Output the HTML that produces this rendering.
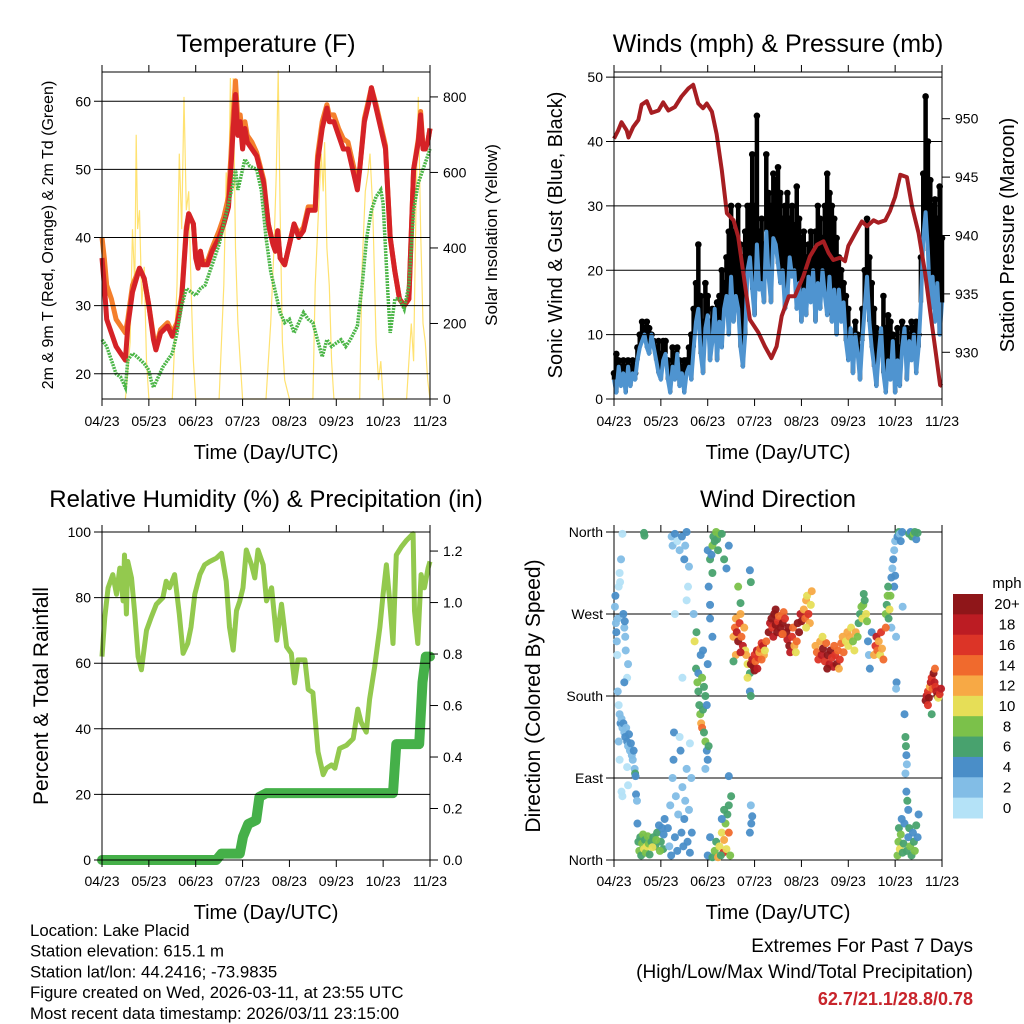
<!DOCTYPE html>
<html><head><meta charset="utf-8"><style>
html,body{margin:0;padding:0;background:#fff;}
svg{display:block;font-family:"Liberation Sans",sans-serif;}
</style></head><body>
<svg id="chart" width="1024" height="1024" viewBox="0 0 1024 1024"></svg>
<script>
// ---------- data ----------
const monthTicks = ["04/23","05/23","06/23","07/23","08/23","09/23","10/23","11/23"];
const tempT  = [0,0.05,0.1,0.2,0.3,0.4,0.5,0.55,0.65,0.8,0.9,1.0,1.1,1.15,1.25,1.4,1.5,1.6,1.7,1.8,1.85,1.95,2.0,2.05,2.1,2.15,2.25,2.35,2.5,2.6,2.7,2.75,2.8,2.85,2.9,2.95,3.0,3.05,3.1,3.2,3.3,3.45,3.55,3.65,3.7,3.75,3.8,3.9,4.0,4.1,4.2,4.3,4.4,4.55,4.6,4.7,4.8,4.85,4.95,5.05,5.15,5.25,5.35,5.45,5.5,5.6,5.7,5.75,5.85,5.95,6.05,6.15,6.25,6.35,6.45,6.55,6.65,6.75,6.8,6.85,6.9,6.95,7.0];
const temp2m = [37,33,28,26,24,23,22,27,32,35.5,34,30,25,23.5,26,27,25.5,27,31,41,43.5,42,37,35.5,38,36,36,38,40,42,44.5,50,56,61,55,57,53,56,54,53,52,48,42,39,38,41,37,36,39,42,40,41,44,44,51,56,59,57,57,55,53,53,50,47,50,57,60,62,59,56,53,40,35,31,30,31,50,54,58,53,53,54,56];
const temp9m = [40,37,33,31,28,27,26,28,33,35.5,34,30,25.5,24,26.5,27.5,26,27.5,31.5,41.5,43.5,42,37.5,36,38,36.5,36.5,38.5,41,43,46,52,58,63,57,58,54.5,57,55,54,52.5,48.5,42,39,38,41,37,36,39,42,40.5,41.5,44.5,44.5,52,57,59.5,58,58,56,54.5,54,51,48,50,57.5,60.5,62,59.5,56.5,53.5,40,35,31,30,31,50,54.5,58.5,53.5,53,54,56];
const dewT   = [0,0.1,0.2,0.3,0.4,0.5,0.55,0.65,0.75,0.9,1.0,1.05,1.1,1.2,1.3,1.4,1.5,1.6,1.7,1.8,1.9,2.0,2.1,2.2,2.3,2.4,2.5,2.6,2.7,2.8,2.85,2.9,3.0,3.05,3.15,3.3,3.4,3.5,3.6,3.7,3.8,3.9,4.0,4.1,4.2,4.3,4.4,4.5,4.6,4.7,4.8,4.9,5.0,5.1,5.2,5.3,5.45,5.55,5.65,5.75,5.85,5.95,6.0,6.1,6.15,6.25,6.35,6.45,6.55,6.65,6.75,6.85,6.95,7.0];
const dewV   = [25,24,22,20,19.5,18,22,23,22.5,21.5,20.5,19,18,19.5,21,22,23,26,30,32.5,32,31.5,32.5,33,35,37,39,42,45,48,50,47,50,51.5,50.5,50,47,40,35,32,29,27.5,28,26,27.5,29,28,27.5,25,22.5,25,24,24.5,25,24,25,27,33,40,44,46,47,45,32,26,31,31,29.5,33,44,48,50,52,53];
const solarT = [0.5,0.6,0.65,0.7,0.73,0.76,0.8,0.85,0.9,0.95,1.0,1.5,1.6,1.65,1.7,1.75,1.8,1.85,1.9,1.95,2.0,2.5,2.6,2.65,2.7,2.74,2.78,2.8,2.85,2.9,2.95,3.0,3.5,3.6,3.67,3.72,3.76,3.8,3.85,3.9,4.0,4.5,4.55,4.62,4.68,4.72,4.75,4.8,4.85,4.9,4.95,5.5,5.55,5.62,5.68,5.72,5.78,5.85,5.9,5.95,6.0,6.5,6.55,6.6,6.65,6.7,6.75,6.8,6.85,6.9,6.95,7.0];
const solarV = [0,150,450,300,700,450,500,250,350,100,0,0,300,650,450,800,500,550,300,100,0,0,300,600,500,850,600,850,400,200,100,0,0,200,400,600,870,500,150,50,0,0,300,500,650,550,680,400,300,100,0,0,350,550,600,650,500,150,50,100,0,0,100,200,100,500,800,450,200,150,50,0];

const windT = [];
for (let i = 0; i <= 140; i++) windT.push(i * 0.05);
const windV = [3,1,5,2,4,1,5,2,4,3,6,8,9,10,8,7,10,8,6,4,3,6,7,3,1,5,3,7,2,4,1,4,5,3,8,12,14,7,4,11,13,6,9,14,6,12,8,14,16,10,19,12,16,14,8,5,10,20,22,17,13,24,17,18,15,26,19,15,25,24,21,18,20,14,16,22,19,20,14,18,12,17,13,19,15,20,12,18,14,20,16,13,19,12,17,10,17,12,15,9,6,11,4,10,7,3,9,14,19,12,8,5,2,7,11,4,1,6,3,9,1,6,2,8,11,3,9,6,10,4,8,15,25,29,23,14,19,12,18,10,15];
const gustV = [4,7,6,5,6,5,6,5,6,4,8,10,12,11,12,11,10,9,8,9,7,9,9,6,5,8,7,8,6,5,6,6,8,10,14,18,24,16,12,18,16,12,14,13,15,16,20,18,22,26,30,26,25,30,24,22,26,30,30,38,30,44,26,28,24,38,32,30,35,34,36,32,28,30,32,28,30,27,33,28,25,26,22,24,26,23,26,30,28,25,30,35,32,30,28,25,22,20,18,16,14,10,8,12,10,8,14,20,28,22,18,14,11,9,10,16,11,13,12,10,9,11,8,12,10,11,10,12,11,12,10,22,35,47,40,34,30,31,28,33,25];
const presT = [0,0.09,0.16,0.27,0.31,0.41,0.52,0.59,0.7,0.8,0.95,1.05,1.16,1.3,1.44,1.59,1.69,1.8,1.9,1.98,2.09,2.19,2.3,2.41,2.55,2.65,2.76,2.9,3.08,3.22,3.36,3.47,3.58,3.73,3.86,4.04,4.18,4.33,4.47,4.58,4.68,4.83,4.93,5.0,5.15,5.29,5.4,5.54,5.64,5.79,5.89,6.0,6.11,6.25,6.36,6.5,6.64,6.75,6.86,6.96,7.0];
const presV = [948.3,949.0,949.7,949.0,948.4,949.3,949.9,951.2,951.5,950.5,950.7,951.4,950.7,951.0,951.9,952.6,952.9,951.3,950.9,951.3,950.6,948.7,945.6,941.9,941.3,939.9,936.8,932.8,931.7,930.5,929.5,930.5,933.1,934.8,934.8,936.5,938.2,939.2,939.5,938.5,937.9,938.1,937.8,939.1,940.2,941.2,940.8,941.3,941.1,941.3,942.1,943.3,945.2,945.0,942.5,940.2,936.8,933.4,930.2,927.2,927.1];

const rhT = [0,0.06,0.13,0.23,0.31,0.38,0.45,0.48,0.52,0.55,0.63,0.7,0.77,0.84,0.95,1.05,1.16,1.3,1.37,1.44,1.55,1.65,1.73,1.83,1.9,1.98,2.09,2.19,2.3,2.44,2.55,2.65,2.72,2.8,2.87,2.94,3.01,3.08,3.19,3.26,3.33,3.44,3.51,3.62,3.73,3.83,3.94,4.04,4.11,4.18,4.33,4.4,4.5,4.61,4.72,4.79,4.9,4.97,5.07,5.22,5.36,5.46,5.53,5.64,5.71,5.82,5.93,6.0,6.07,6.14,6.21,6.28,6.39,6.5,6.64,6.67,6.74,6.81,6.88,6.96,7.0];
const rhV = [62,74,83,87,81,89,79,93,75,91,86,75,62,58,70,74,78,80,85,83,87,75,63,66,71,81,87,90,91,92,93.5,85,71,64,76,79,83,94.5,90,86,94.5,90,79,83,67,78,65,63,54,61,61,52,51,33,26,28,29,28,34,35,37,46,42,39,49,59,71,81,90,79,66,93,95.5,97.5,99.5,76,66,87,83,89,91];
const rainT = [0,2.44,2.55,2.94,3.01,3.12,3.29,3.36,3.51,6.21,6.28,6.77,6.84,6.91,7.0];
const rainV = [0,0,0.025,0.025,0.09,0.14,0.155,0.245,0.26,0.26,0.45,0.45,0.69,0.79,0.79];

const dirPts = [
[0.02,278,3],[0.03,290,4],[0.04,260,2],[0.05,250,4],[0.06,240,3],[0.07,225,1],[0.08,265,3],[0.1,300,1],[0.12,315,0],[0.13,305,1],[0.15,330,3],[0.18,358,0],[0.2,270,4],[0.22,255,3],[0.24,245,2],[0.23,262,4],[0.25,230,2],[0.28,200,1],[0.3,215,2],[0.08,185,2],[0.1,170,1],[0.12,160,3],[0.14,150,4],[0.16,155,3],[0.18,145,2],[0.2,150,4],[0.22,140,3],[0.24,135,4],[0.26,145,2],[0.28,130,4],[0.3,125,3],[0.32,138,4],[0.34,120,2],[0.36,128,4],[0.38,115,3],[0.4,110,2],[0.42,120,4],[0.44,100,2],[0.45,95,6],[0.46,92,5],[0.47,72,4],[0.49,65,3],[0.5,40,4],[0.16,75,1],[0.18,70,0],[0.3,82,1],[0.28,102,1],[0.22,195,4],[0.1,130,2],[0.12,110,0],
[0.52,20,6],[0.54,10,8],[0.56,25,7],[0.58,5,6],[0.6,18,9],[0.62,28,8],[0.64,12,10],[0.66,22,7],[0.68,8,8],[0.7,15,10],[0.72,26,9],[0.74,18,8],[0.76,6,7],[0.8,20,6],[0.84,25,7],[0.88,15,6],[0.92,30,6],[0.96,38,5],[1.0,20,6],[1.03,35,5],[1.06,28,4],[1.08,45,5],[1.05,12,7],[0.98,10,8],[0.9,22,9],[0.82,14,10],[0.64,359,7],[0.65,356,6],
[1.15,35,4],[1.18,15,3],[1.2,60,2],[1.22,5,4],[1.25,90,3],[1.27,110,5],[1.28,140,4],[1.3,25,4],[1.32,70,2],[1.35,10,4],[1.37,50,3],[1.4,135,1],[1.42,120,4],[1.44,30,5],[1.46,80,2],[1.48,15,4],[1.5,45,4],[1.52,65,3],[1.55,100,2],[1.57,20,4],[1.6,55,3],[1.62,8,4],[1.65,90,3],[1.66,30,4],[1.23,355,2],[1.25,345,3],[1.3,358,4],[1.35,350,1],[1.4,340,3],[1.45,355,4],[1.5,330,4],[1.52,345,2],[1.55,360,4],[1.6,322,2],[1.46,200,0],[1.62,128,1],[1.55,285,1],[1.3,270,0],[1.58,300,1],
[1.72,240,10],[1.75,210,6],[1.78,195,8],[1.8,185,6],[1.82,170,7],[1.84,160,8],[1.86,150,12],[1.88,145,14],[1.9,165,6],[1.92,140,7],[1.95,130,8],[1.98,120,5],[2.0,110,4],[2.02,125,6],[1.76,250,6],[1.8,205,4],[1.85,225,4],[1.88,200,8],[1.92,190,6],[1.95,180,7],[1.98,170,5],[2.0,215,4],[1.9,230,4],[1.7,270,2],[2.02,300,4],[2.05,265,4],[2.0,340,4],[2.05,330,6],[2.08,335,4],[2.1,345,8],[2.12,355,7],[2.15,350,6],[2.18,360,8],[2.2,352,7],[2.25,358,8],[2.22,340,6],[2.3,358,6],[2.35,330,6],[2.4,320,4],[2.45,345,4],[2.1,315,6],[2.05,280,4],[2.1,245,4],[1.95,100,2],
[2.0,5,4],[2.05,25,4],[2.1,3,7],[2.15,10,8],[2.18,20,6],[2.22,3,12],[2.25,15,10],[2.3,30,10],[2.33,8,16],[2.35,22,12],[2.38,40,8],[2.42,50,6],[2.45,60,7],[2.4,12,10],[2.45,30,14],[2.48,5,8],[2.28,5,6],[2.3,45,4],[2.35,55,7],[2.5,70,6],[2.45,92,4],
[2.55,245,12],[2.58,255,14],[2.6,265,12],[2.62,250,18],[2.65,240,20],[2.68,260,16],[2.7,270,12],[2.72,245,14],[2.75,235,18],[2.78,255,12],[2.8,230,10],[2.82,225,12],[2.85,215,10],[2.6,225,12],[2.55,218,6],[2.7,228,18],[2.9,205,6],[2.9,185,4],[2.92,180,6],[2.85,200,10],[2.65,300,8],[2.9,318,4],[2.92,305,6],[2.9,30,4],[2.93,40,4],[2.92,60,3],[2.95,48,4],[2.7,282,6],
[2.92,215,20],[2.95,220,18],[2.98,212,20],[3.0,225,16],[3.02,218,14],[3.05,230,18],[3.08,222,16],[3.1,228,12],[3.12,232,14],[3.15,238,16],[3.18,235,18],[3.2,225,12],[3.22,230,10],[3.25,240,14],[3.0,208,20],[3.06,210,18],[3.15,220,14],
[3.3,250,20],[3.33,260,18],[3.36,265,20],[3.38,255,16],[3.4,245,18],[3.42,270,20],[3.45,258,20],[3.48,250,20],[3.5,262,16],[3.52,268,14],[3.55,255,20],[3.58,248,18],[3.6,260,20],[3.62,272,14],[3.65,265,16],[3.68,250,20],[3.7,242,18],[3.72,255,20],[3.74,235,20],[3.76,228,18],[3.8,245,16],[3.82,255,14],[3.85,235,12],[3.88,228,10],[3.9,240,14],[3.92,260,20],[3.95,250,20],[3.98,270,18],[4.0,262,20],[3.45,275,20],[3.6,248,14],
[4.05,275,12],[4.08,265,14],[4.1,285,12],[4.12,290,10],[4.15,270,16],[4.18,260,12],[4.2,280,10],[4.22,295,12],[4.1,255,10],
[4.3,235,12],[4.33,228,14],[4.36,220,16],[4.4,240,12],[4.43,225,18],[4.46,232,20],[4.5,218,16],[4.53,238,14],[4.56,225,20],[4.6,215,18],[4.62,230,20],[4.65,222,16],[4.68,212,18],[4.7,235,14],[4.72,225,16],[4.75,215,20],[4.78,230,14],[4.8,210,12],[4.82,220,16],[4.85,238,14],[4.88,245,12],[4.9,228,14],[4.45,245,10],[4.55,210,20],
[4.95,240,10],[4.98,250,12],[5.0,235,10],[5.03,245,12],[5.06,255,10],[5.1,240,8],[5.13,230,10],[5.16,250,12],[5.2,245,8],[5.22,260,6],[5.25,270,6],[5.28,278,8],[5.3,265,10],[5.32,280,8],[5.35,285,6],[5.38,270,10],[5.4,262,8],[5.33,292,6],
[5.42,240,4],[5.44,225,2],[5.46,210,4],[5.5,250,4],[5.55,225,12],[5.58,235,16],[5.6,245,18],[5.62,230,14],[5.65,240,12],[5.68,225,10],[5.7,250,16],[5.72,232,12],[5.75,220,14],
[5.8,270,8],[5.82,280,6],[5.84,290,8],[5.86,265,6],[5.88,275,10],[5.9,290,8],[5.92,310,4],[5.94,320,3],[5.96,330,4],[5.98,340,3],[6.0,350,2],[6.0,312,4],[5.98,300,4],[5.92,255,2],[6.02,245,3],[5.85,300,6],[5.8,255,14],[6.03,195,4],[6.02,188,3],
[6.05,355,4],[6.08,360,6],[6.1,358,2],[6.12,350,4],[6.15,360,4],[6.3,358,6],[6.33,360,4],[6.36,355,6],[6.4,358,8],[6.42,360,6],[6.45,352,4],[6.48,359,6],[6.16,278,2],
[6.2,160,4],[6.22,135,6],[6.23,125,6],[6.24,115,4],[6.25,105,2],[6.22,95,2],[6.24,75,4],[6.26,65,6],[6.28,55,4],
[6.05,5,8],[6.07,20,8],[6.08,35,6],[6.1,12,10],[6.12,28,8],[6.14,45,4],[6.16,8,6],[6.18,18,7],[6.2,40,4],[6.25,10,6],[6.28,25,4],[6.3,35,6],[6.32,15,8],[6.35,5,6],[6.38,30,4],[6.4,20,6],[6.42,10,8],[6.45,38,6],[6.48,25,4],[6.5,50,4],
[6.65,175,20],[6.67,180,18],[6.7,185,16],[6.72,178,20],[6.74,190,12],[6.76,195,18],[6.78,200,16],[6.8,188,14],[6.82,205,20],[6.84,195,18],[6.86,190,16],[6.88,185,18],[6.9,180,20],[6.92,178,10],[6.95,182,16],[6.98,188,18],[6.7,170,16],[6.85,210,14],[6.78,160,6]
];
const speedLabels = ["0","2","4","6","8","10","12","14","16","18","20+"];
const speedColors = ["#b4e2f7","#82bde6","#4a8ec8","#48a26e","#7bc14a","#e6de57","#f7a945","#f06a2d","#dc3427","#bc1c23","#8f1619"];
const tempTicks=[20,30,40,50,60], solarTicks=[0,200,400,600,800];
const windTicks=[0,10,20,30,40,50], presTicks=[930,935,940,945,950];
const rhTicks=[0,20,40,60,80,100], rainTicks=[0,0.2,0.4,0.6,0.8,1.0,1.2];
const dirTicks=[0,90,180,270,360], dirLabels=["North","East","South","West","North"];

// ---------- helpers ----------
const NS="http://www.w3.org/2000/svg";
const svg=document.getElementById('chart');
function el(tag, attrs, name, parent){
  const e=document.createElementNS(NS,tag);
  for(const k in attrs) e.setAttribute(k,attrs[k]);
  
  
  (parent||svg).appendChild(e);
  return e;
}
function txt(s,x,y,size,anchor,name,extra){
  const a=Object.assign({x:x,y:y,'font-size':size,'text-anchor':anchor||'middle',fill:'#000'},extra||{});
  const t=el('text',a,name);
  t.textContent=s;
  return t;
}
function scale(d0,d1,r0,r1){return v=>r0+(v-d0)/(d1-d0)*(r1-r0);}
function path(xs,ys,sx,sy){return xs.map((x,i)=>(i?'L':'M')+sx(x).toFixed(1)+','+sy(ys[i]).toFixed(1)).join('');}

function frame(P,leftTicks,ly,leftLabels,rightTicks,ry,rightFmt,prefix,xLabY){
  leftTicks.forEach((v,i)=>{
    el('line',{x1:P.x0-8,x2:P.x1,y1:ly(v),y2:ly(v),stroke:'#000','stroke-width':1},prefix+'-gridline');
    txt(leftLabels[i],P.x0-11,ly(v)+5,14,'end',prefix+'-left-tick-label');
  });
  if(rightTicks){
    rightTicks.forEach(v=>{
      el('line',{x1:P.x1,x2:P.x1+8,y1:ry(v),y2:ry(v),stroke:'#000','stroke-width':1},prefix+'-right-tick');
      txt(rightFmt(v),P.x1+13,ry(v)+5,14,'start',prefix+'-right-tick-label');
    });
  }
  el('rect',{x:P.x0,y:P.yT,width:P.x1-P.x0,height:P.yB-P.yT,fill:'none',stroke:'#000','stroke-width':1},prefix+'-plot-border');
  const sx=scale(0,7,P.x0,P.x1);
  monthTicks.forEach((m,i)=>{
    el('line',{x1:sx(i),x2:sx(i),y1:P.yT-7,y2:P.yT,stroke:'#000'},prefix+'-top-tick');
    el('line',{x1:sx(i),x2:sx(i),y1:P.yB,y2:P.yB+7,stroke:'#000'},prefix+'-bottom-tick');
    txt(m,sx(i),xLabY,14,'middle',prefix+'-x-tick-label');
  });
  txt('Time (Day/UTC)',(P.x0+P.x1)/2,xLabY+33,20,'middle',prefix+'-x-axis-title');
  return sx;
}

// ---------- Panel 1: Temperature ----------
{
  const P={x0:102,x1:430,yT:72,yB:399};
  const sy=scale(16.3,64.3,P.yB,P.yT), ss=scale(0,866,P.yB,P.yT);
  txt('Temperature (F)',266,52,25,'middle','temperature-title');
  const g=el('g',{},'temperature-series');
  const sx=scale(0,7,P.x0,P.x1);
  el('path',{d:path(solarT,solarV,sx,ss),fill:'none',stroke:'#ffe271','stroke-width':1.2},'solar-insolation-line',g);
  el('path',{d:path(tempT,temp9m,sx,sy),fill:'none',stroke:'#f47f2c','stroke-width':5,'stroke-linejoin':'round'},'temp-9m-line',g);
  el('path',{d:path(tempT,temp2m,sx,sy),fill:'none',stroke:'#d52227','stroke-width':5,'stroke-linejoin':'round'},'temp-2m-line',g);
  el('path',{d:path(dewT,dewV,sx,sy),fill:'none',stroke:'#4cb648','stroke-width':3.5,'stroke-dasharray':'2 1'},'dewpoint-line',g);
  frame(P,tempTicks,sy,tempTicks.map(String),solarTicks,ss,v=>String(v),'temp',426);
  txt('2m & 9m T (Red, Orange) & 2m Td (Green)',0,0,16,'middle','temp-left-axis-title',{transform:'translate(53,235) rotate(-90)'});
  txt('Solar Insolation (Yellow)',0,0,17,'middle','solar-right-axis-title',{transform:'translate(497,235) rotate(-90)'});
}

// ---------- Panel 2: Winds ----------
{
  const P={x0:614,x1:942,yT:72,yB:399};
  const sy=scale(0,50.8,P.yB,P.yT), sp=scale(926,954,P.yB,P.yT);
  const sx=scale(0,7,P.x0,P.x1);
  txt('Winds (mph) & Pressure (mb)',778,52,25,'middle','winds-title');
  const g=el('g',{},'wind-series');
  windT.forEach((t,i)=>{
    el('line',{x1:sx(t),x2:sx(t),y1:sy(windV[i]),y2:sy(gustV[i]),stroke:'#000','stroke-width':4.5},'gust-range-bar',g);
  });
  windT.forEach((t,i)=>{
    el('circle',{cx:sx(t),cy:sy(gustV[i]),r:3.3,fill:'#000'},'gust-point',g);
  });
  el('path',{d:path(windT,windV,sx,sy),fill:'none',stroke:'#4f94d0','stroke-width':4,'stroke-linejoin':'round'},'sonic-wind-line',g);
  el('path',{d:path(presT,presV,sx,sp),fill:'none',stroke:'#a61e22','stroke-width':4,'stroke-linejoin':'round'},'station-pressure-line',g);
  frame(P,windTicks,sy,windTicks.map(String),presTicks,sp,v=>String(v),'wind',426);
  txt('Sonic Wind & Gust (Blue, Black)',0,0,20,'middle','wind-left-axis-title',{transform:'translate(562,235) rotate(-90)'});
  txt('Station Pressure (Maroon)',0,0,20,'middle','pressure-right-axis-title',{transform:'translate(1014,235) rotate(-90)'});
}

// ---------- Panel 3: RH & Precip ----------
{
  const P={x0:102,x1:430,yT:532,yB:860};
  const sy=scale(0,100,P.yB,P.yT), sr=scale(0,1.274,P.yB,P.yT);
  const sx=scale(0,7,P.x0,P.x1);
  txt('Relative Humidity (%) & Precipitation (in)',266,507,24,'middle','rh-precip-title');
  const g=el('g',{},'rh-series');
  el('path',{d:path(rhT,rhV,sx,sy),fill:'none',stroke:'#93c94e','stroke-width':5,'stroke-linejoin':'round'},'relative-humidity-line',g);
  el('path',{d:path(rainT,rainV,sx,sr),fill:'none',stroke:'#45b049','stroke-width':10,'stroke-linejoin':'round','stroke-linecap':'round'},'total-rainfall-line',g);
  frame(P,rhTicks,sy,rhTicks.map(String),rainTicks,sr,v=>v.toFixed(1),'rh',886);
  txt('Percent & Total Rainfall',0,0,21,'middle','rh-left-axis-title',{transform:'translate(48,696) rotate(-90)'});
}

// ---------- Panel 4: Wind Direction ----------
{
  const P={x0:614,x1:942,yT:532,yB:860};
  const sy=scale(0,360,P.yB,P.yT);
  const sx=scale(0,7,P.x0,P.x1);
  txt('Wind Direction',778,507,24,'middle','wind-direction-title');
  frame(P,dirTicks,sy,dirLabels,null,null,null,'dir',886);
  const g=el('g',{},'direction-points');
  dirPts.forEach(p=>{
    const bin=Math.min(10,Math.floor(p[2]/2));
    el('circle',{cx:sx(p[0]),cy:sy(p[1]),r:4,fill:speedColors[bin],'fill-opacity':0.95},'direction-point',g);
  });
  txt('Direction (Colored By Speed)',0,0,21,'middle','dir-left-axis-title',{transform:'translate(540,696) rotate(-90)'});
  txt('mph',1007,588,15,'middle','legend-title');
  const lg=el('g',{},'speed-legend');
  const top=594, h=(818-594)/speedColors.length;
  speedColors.forEach((c,i)=>{
    const idx=speedColors.length-1-i;
    el('rect',{x:953,y:top+i*h,width:30,height:h+0.5,fill:speedColors[idx]},'legend-swatch',lg);
    txt(speedLabels[idx],1007,top+i*h+h/2+5,15,'middle','legend-label');
  });
}

// ---------- Footer ----------
const info=["Location: Lake Placid","Station elevation: 615.1 m","Station lat/lon: 44.2416; -73.9835","Figure created on Wed, 2026-03-11, at 23:55 UTC","Most recent data timestamp: 2026/03/11 23:15:00"];
info.forEach((s,i)=>txt(s,30,936+i*20.7,16.8,'start','station-info-line'));
txt('Extremes For Past 7 Days',973,952,19,'end','extremes-heading');
txt('(High/Low/Max Wind/Total Precipitation)',973,978,19,'end','extremes-subheading');
txt('62.7/21.1/28.8/0.78',973,1005,18,'end','extremes-values',{fill:'#c8242b','font-weight':'bold'});
</script>
</body></html>
